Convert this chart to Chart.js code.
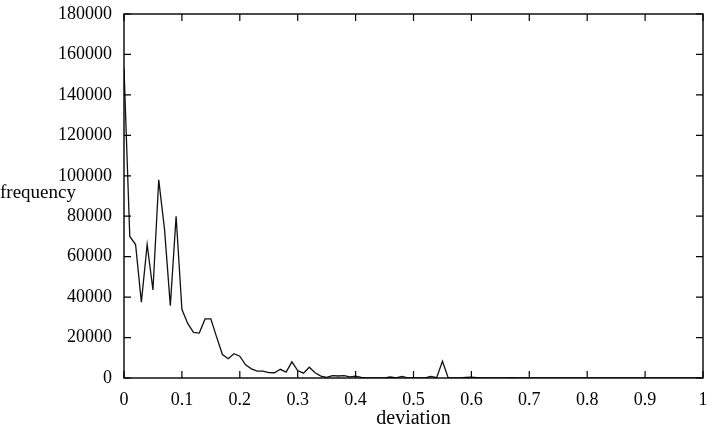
<!DOCTYPE html>
<html>
<head>
<meta charset="utf-8">
<script src="https://cdn.jsdelivr.net/npm/chart.js@4"></script>
<style>
  html, body { margin: 0; padding: 0; background: #fff; }
  #wrap { width: 716px; height: 434px; }
</style>
</head>
<body>
<div id="wrap"><canvas id="dev-chart" width="716" height="434"></canvas></div>
<script>
// deviation bins (x) and counts (y)
const deviation = [
  0.00, 0.01, 0.02, 0.03, 0.04, 0.05, 0.06, 0.07, 0.08, 0.09,
  0.10, 0.11, 0.12, 0.13, 0.14, 0.15, 0.16, 0.17, 0.18, 0.19,
  0.20, 0.21, 0.22, 0.23, 0.24, 0.25, 0.26, 0.27, 0.28, 0.29,
  0.30, 0.31, 0.32, 0.33, 0.34, 0.35, 0.36, 0.37, 0.38, 0.39,
  0.40, 0.41, 0.42, 0.43, 0.44, 0.45, 0.46, 0.47, 0.48, 0.49,
  0.50, 0.51, 0.52, 0.53, 0.54, 0.55, 0.56, 0.57, 0.58, 0.59,
  0.60, 0.61, 0.62, 0.63, 0.64, 0.65, 0.66, 0.67, 0.68, 0.69,
  0.70, 0.71, 0.72, 0.73, 0.74, 0.75, 0.76, 0.77, 0.78, 0.79,
  0.80, 0.81, 0.82, 0.83, 0.84, 0.85, 0.86, 0.87, 0.88, 0.89,
  0.90, 0.91, 0.92, 0.93, 0.94, 0.95, 0.96, 0.97, 0.98, 0.99,
  1.00
];
const frequency = [
  153000, 70000, 66000, 37500, 66000, 43500, 98000, 73500, 35800, 80000,
  34000, 27000, 22600, 22200, 29200, 29200, 20200, 11600, 9500, 12000,
  10800, 6500, 4500, 3400, 3400, 2700, 2600, 4300, 2900, 8000,
  3700, 2400, 5300, 2600, 900, 300, 1200, 1000, 1200, 600,
  900, 300, 100, 0, 0, 0, 500, 100, 800, 100,
  0, 0, 0, 800, 200, 8300, 0, 0, 0, 300,
  400, 200, 0, 0, 0, 100, 100, 200, 100, 0,
  0, 0, 0, 0, 0, 0, 0, 0, 0, 100,
  100, 0, 0, 0, 0, 0, 0, 0, 0, 0,
  0, 0, 0, 0, 0, 0, 0, 0, 0, 0,
  0
];
const x_ticks = [0, 0.1, 0.2, 0.3, 0.4, 0.5, 0.6, 0.7, 0.8, 0.9, 1];
const y_ticks = [0, 20000, 40000, 60000, 80000, 100000, 120000, 140000, 160000, 180000];

const FONT = 'Liberation Serif';

// gnuplot-like frame with inward ticks on all four sides + horizontal y label
const frame_plugin = {
    id: 'frame',
    afterDraw(chart) {
        const ctx = chart.ctx;
        const a = chart.chartArea;
        const xs = chart.scales.x;
        const ys = chart.scales.y;
        const len = 7;
        ctx.save();
        ctx.strokeStyle = '#000';
        ctx.lineWidth = 1.4;
        ctx.strokeRect(a.left, a.top, a.right - a.left, a.bottom - a.top);
        ctx.lineWidth = 1.2;
        ctx.beginPath();
        x_ticks.forEach(v => {
            const px = xs.getPixelForValue(v);
            ctx.moveTo(px, a.bottom); ctx.lineTo(px, a.bottom - len);
            ctx.moveTo(px, a.top); ctx.lineTo(px, a.top + len);
        });
        y_ticks.forEach(v => {
            const py = ys.getPixelForValue(v);
            ctx.moveTo(a.left, py); ctx.lineTo(a.left + len, py);
            ctx.moveTo(a.right, py); ctx.lineTo(a.right - len, py);
        });
        ctx.stroke();

        ctx.fillStyle = '#000';
        ctx.font = '19px "' + FONT + '"';
        ctx.textAlign = 'left';
        ctx.textBaseline = 'alphabetic';
        ctx.fillText('frequency', 0, 198);
        ctx.restore();
    }
};

const chart = new Chart(document.getElementById('dev-chart'), {
    type: 'line',
    data: {
        datasets: [{
            label: 'frequency',
            data: deviation.map((d, i) => ({ x: d, y: frequency[i] })),
            borderColor: '#111',
            borderWidth: 1.3,
            pointRadius: 0,
            tension: 0,
            fill: false
        }]
    },
    options: {
        responsive: false,
        animation: false,
        layout: { padding: { top: 14, right: 13, left: 0, bottom: 0 } },
        plugins: {
            legend: { display: false },
            tooltip: { enabled: false }
        },
        scales: {
            x: {
                type: 'linear',
                min: 0,
                max: 1,
                afterBuildTicks: (scale) => { scale.ticks = x_ticks.map(v => ({ value: v })); },
                afterFit: (scale) => {
                    scale.height = 56;
                    scale.paddingLeft = 0;
                    scale.paddingRight = 0;
                },
                grid: { display: false, drawTicks: false },
                border: { display: false },
                ticks: {
                    color: '#000',
                    padding: 11,
                    maxRotation: 0,
                    font: { family: FONT, size: 18 },
                    callback: (v) => String(Number(v.toFixed(1)))
                },
                title: {
                    display: true,
                    text: 'deviation',
                    color: '#000',
                    padding: { top: 0, bottom: 3 },
                    font: { family: FONT, size: 20 }
                }
            },
            y: {
                type: 'linear',
                min: 0,
                max: 180000,
                afterBuildTicks: (scale) => { scale.ticks = y_ticks.map(v => ({ value: v })); },
                afterFit: (scale) => {
                    scale.width = 124;
                    scale.paddingTop = 0;
                    scale.paddingBottom = 0;
                },
                grid: { display: false, drawTicks: false },
                border: { display: false },
                ticks: {
                    color: '#000',
                    padding: 12,
                    font: { family: FONT, size: 18 },
                    callback: (v) => String(v)
                }
            }
        }
    },
    plugins: [frame_plugin]
});
</script>
</body>
</html>
